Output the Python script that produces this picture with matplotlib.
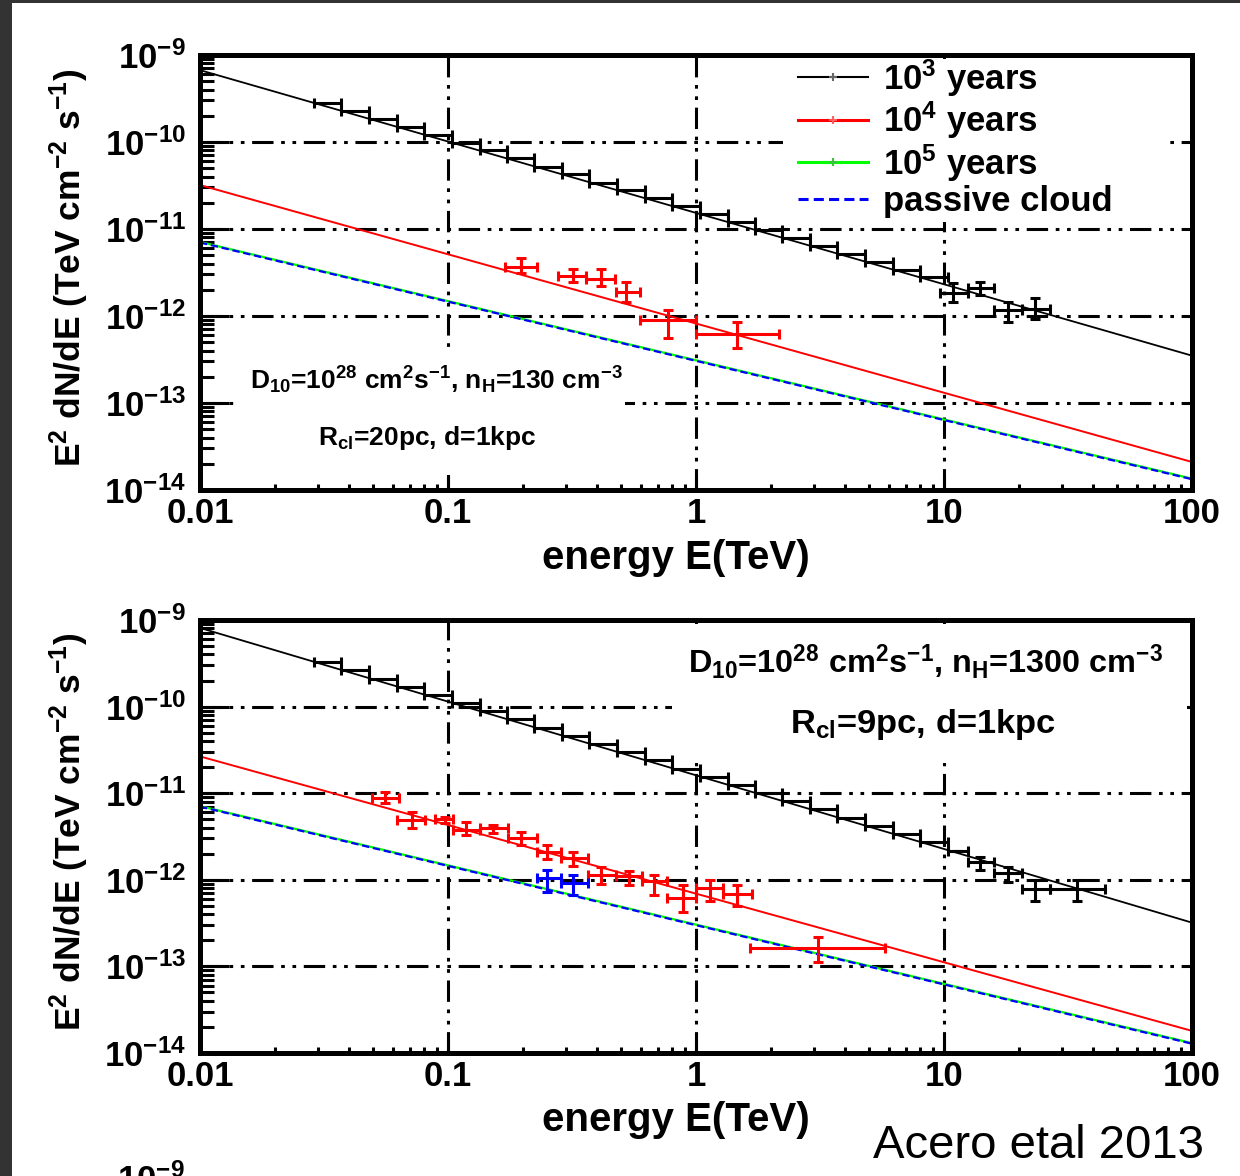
"""
E^2 dN/dE of a molecular cloud illuminated by CRs escaping a nearby SNR,
for two cloud setups, with simulated data points.

python plot.py  ->  out.png
"""

import matplotlib
matplotlib.use("Agg")

import numpy as np
import matplotlib.pyplot as plt
from matplotlib.patches import Rectangle
from matplotlib.lines import Line2D
from matplotlib.ticker import LogLocator, FixedLocator, FixedFormatter, NullFormatter

plt.rcParams["font.family"] = "Liberation Sans"
plt.rcParams["font.weight"] = "bold"
plt.rcParams["axes.labelweight"] = "bold"
plt.rcParams["mathtext.default"] = "regular"
plt.rcParams["mathtext.fontset"] = "custom"
plt.rcParams["mathtext.rm"] = "Liberation Sans:bold"

W, H = 1240, 1176

# ---------------------------------------------------------------------------
# Data
# ---------------------------------------------------------------------------
E_MODEL = [0.01, 100.0]

# upper panel model curves (values at 0.01 and 100 TeV)
top_1e3 = [6.7e-10, 3.5e-13]
top_1e4 = [3.2e-11, 2.1e-14]
top_1e5 = [7.1e-12, 1.35e-14]
top_passive = [7.0e-12, 1.33e-14]

# lower panel model curves
bot_1e3 = [8.1e-10, 3.2e-13]
bot_1e4 = [2.66e-11, 1.8e-14]
bot_1e5 = [7.1e-12, 1.3e-14]
bot_passive = [7.0e-12, 1.28e-14]

# binned 10^3 yr simulated spectrum (bin edges in TeV)
STEP_EDGES = [0.0288, 0.0372, 0.0481, 0.0621, 0.0802, 0.1037, 0.134, 0.173,
              0.223, 0.288, 0.372, 0.481, 0.621, 0.802, 1.04, 1.34, 1.73,
              2.23, 2.88, 3.72, 4.81, 6.21, 8.02, 10.4]
top_steps = [2.8e-10, 2.28e-10, 1.85e-10, 1.5e-10, 1.21e-10, 9.8e-11, 8.0e-11,
             6.5e-11, 5.2e-11, 4.3e-11, 3.4e-11, 2.8e-11, 2.27e-11, 1.84e-11,
             1.49e-11, 1.21e-11, 9.8e-12, 7.9e-12, 6.4e-12, 5.2e-12, 4.2e-12,
             3.4e-12, 2.8e-12]
bot_steps = [3.24e-10, 2.63e-10, 2.1e-10, 1.7e-10, 1.36e-10, 1.1e-10, 8.8e-11,
             7.1e-11, 5.7e-11, 4.6e-11, 3.7e-11, 3.0e-11, 2.4e-11, 1.9e-11,
             1.55e-11, 1.25e-11, 1.0e-11, 8.1e-12, 6.5e-12, 5.2e-12, 4.2e-12,
             3.4e-12, 2.7e-12]

# upper panel: high-energy 10^3 yr points
top_blk_E = [10.9, 14.0, 18.1, 23.3]
top_blk_lo = [9.64, 12.5, 15.9, 20.6]
top_blk_hi = [12.5, 15.9, 20.6, 26.7]
top_blk_F = [1.84e-12, 2.09e-12, 1.17e-12, 1.2e-12]
top_blk_Flo = [1.44e-12, 1.74e-12, 8.5e-13, 9.3e-13]
top_blk_Fhi = [2.4e-12, 2.45e-12, 1.44e-12, 1.62e-12]

# upper panel: 10^4 yr points
top_red_E = [0.197, 0.319, 0.414, 0.52, 0.77, 1.46]
top_red_lo = [0.170, 0.278, 0.360, 0.475, 0.594, 1.0]
top_red_hi = [0.229, 0.360, 0.471, 0.594, 1.0, 2.17]
top_red_F = [3.66e-12, 2.9e-12, 2.66e-12, 1.9e-12, 8.9e-13, 6.2e-13]
top_red_Flo = [3.12e-12, 2.45e-12, 2.21e-12, 1.44e-12, 5.6e-13, 4.3e-13]
top_red_Fhi = [4.65e-12, 3.47e-12, 3.47e-12, 2.45e-12, 1.17e-12, 8.5e-13]

# lower panel: high-energy 10^3 yr points
bot_blk_E = [11.3, 14.0, 18.1, 23.3, 34.4]
bot_blk_lo = [10.4, 12.5, 15.9, 20.6, 26.7]
bot_blk_hi = [12.5, 15.9, 20.6, 26.7, 44.6]
bot_blk_F = [2.15e-12, 1.62e-12, 1.2e-12, 7.9e-13, 7.9e-13]
bot_blk_Flo = [2.15e-12, 1.3e-12, 9.5e-13, 5.7e-13, 5.7e-13]
bot_blk_Fhi = [2.15e-12, 1.84e-12, 1.41e-12, 1.0e-12, 1.0e-12]

# lower panel: 10^4 yr points
bot_red_E = [0.0557, 0.0716, 0.097, 0.118, 0.152, 0.197, 0.251, 0.319,
             0.414, 0.537, 0.678, 0.887, 1.14, 1.46, 3.1]
bot_red_lo = [0.0494, 0.0622, 0.0887, 0.105, 0.135, 0.174, 0.229, 0.286,
              0.367, 0.475, 0.605, 0.764, 1.0, 1.28, 1.65]
bot_red_hi = [0.0634, 0.0807, 0.105, 0.135, 0.174, 0.229, 0.286, 0.367,
              0.475, 0.605, 0.764, 1.0, 1.28, 1.68, 5.78]
bot_red_F = [8.7e-12, 4.9e-12, 5.0e-12, 3.76e-12, 4.0e-12, 3.0e-12, 2.1e-12,
             1.8e-12, 1.14e-12, 1.12e-12, 9.6e-13, 6.2e-13, 8.1e-13, 6.9e-13,
             1.62e-13]
bot_red_Flo = [7.7e-12, 3.97e-12, 4.5e-12, 3.3e-12, 3.5e-12, 2.5e-12, 1.73e-12,
               1.45e-12, 9.0e-13, 8.6e-13, 6.6e-13, 4.2e-13, 5.7e-13, 5.0e-13,
               1.11e-13]
bot_red_Fhi = [1.02e-11, 6.05e-12, 5.3e-12, 4.6e-12, 4.3e-12, 3.55e-12, 2.55e-12,
               2.1e-12, 1.42e-12, 1.25e-12, 1.14e-12, 8.6e-13, 1.0e-12, 8.6e-13,
               2.2e-13]

# lower panel: passive cloud points
bot_blue_E = [0.251, 0.319]
bot_blue_lo = [0.229, 0.286]
bot_blue_hi = [0.286, 0.367]
bot_blue_F = [1.05e-12, 9.3e-13]
bot_blue_Flo = [7.3e-13, 6.6e-13]
bot_blue_Fhi = [1.3e-12, 1.15e-12]

X_TICKS = [0.01, 0.1, 1, 10, 100]
X_LABELS = ["0.01", "0.1", "1", "10", "100"]

LEGEND_LABELS = [r"10$^{3}$ years", r"10$^{4}$ years", r"10$^{5}$ years",
                 "passive cloud"]

GRID_LS = (0, (7, 2.5, 1.2, 2.5, 1.2, 2.5))
BLUE_LS = (0, (3.3, 1.7))


def _points(ax, E, lo, hi, F, flo, fhi, color):
    E, lo, hi = np.array(E), np.array(lo), np.array(hi)
    F, flo, fhi = np.array(F), np.array(flo), np.array(fhi)
    ax.errorbar(E, F, xerr=[E - lo, hi - E], yerr=[F - flo, fhi - F],
                fmt="none", ecolor=color, elinewidth=2.2, capsize=3.5,
                capthick=2.2, zorder=4)


def _steps(ax, edges, flux):
    edges = np.array(edges)
    lo, hi = edges[:-1], edges[1:]
    c = np.sqrt(lo * hi)
    ax.errorbar(c, flux, xerr=[c - lo, hi - c], fmt="none", ecolor="k",
                elinewidth=2.2, capsize=3.5, capthick=2.2, zorder=4)


def _panel(ax, curves, steps):
    ax.set_xscale("log")
    ax.set_yscale("log")
    ax.set_xlim(0.01, 100)
    ax.set_ylim(1e-14, 1e-9)

    c3, c4, c5, cp = curves
    ax.plot(E_MODEL, c3, color="k", lw=1.3, zorder=2)
    ax.plot(E_MODEL, c4, color="red", lw=1.4, zorder=2)
    ax.plot(E_MODEL, c5, color="#00ff00", lw=1.6, zorder=2)
    ax.plot(E_MODEL, cp, color="blue", lw=1.6, ls=BLUE_LS, zorder=2.1)
    _steps(ax, STEP_EDGES, steps)

    ax.set_axisbelow(True)
    ax.grid(True, which="major", color="k", lw=2.2, ls=GRID_LS)
    ax.grid(False, which="minor")

    ax.xaxis.set_major_locator(FixedLocator(X_TICKS))
    ax.xaxis.set_major_formatter(FixedFormatter(X_LABELS))
    ax.xaxis.set_minor_locator(LogLocator(base=10, subs=np.arange(2, 10), numticks=30))
    ax.xaxis.set_minor_formatter(NullFormatter())
    ax.yaxis.set_major_locator(LogLocator(base=10, numticks=10))
    ax.yaxis.set_minor_locator(LogLocator(base=10, subs=np.arange(2, 10), numticks=30))
    ax.yaxis.set_minor_formatter(NullFormatter())

    ax.tick_params(axis="both", which="both", direction="in", width=2.2,
                   top=False, right=False, labelsize=25, colors="k")
    ax.tick_params(axis="y", which="major", length=21, pad=10)
    ax.tick_params(axis="y", which="minor", length=10)
    ax.tick_params(axis="x", which="major", length=9.5, pad=5)
    ax.tick_params(axis="x", which="minor", length=4.5)
    for sp in ax.spines.values():
        sp.set_linewidth(3.6)

    ax.set_xlabel("energy E(TeV)", fontsize=29, fontweight="bold")
    ax.set_ylabel(r"E$^{2}$ dN/dE (TeV cm$^{-2}$ s$^{-1}$)", fontsize=25.5,
                  fontweight="bold")
    ax.yaxis.set_label_coords(-0.11, 0.51)


def _box(ax, x0, y0, x1, y1):
    ax.add_patch(Rectangle((x0, y0), x1 - x0, y1 - y0, transform=ax.transAxes,
                           facecolor="white", edgecolor="none", zorder=1))


fig = plt.figure(figsize=(W / 100, H / 100), dpi=100, facecolor="white")

# upper panel
ax1 = fig.add_axes([200 / W, 1 - 490 / H, 992 / W, 435 / H])
_panel(ax1, (top_1e3, top_1e4, top_1e5, top_passive), top_steps)
_points(ax1, top_blk_E, top_blk_lo, top_blk_hi, top_blk_F, top_blk_Flo, top_blk_Fhi, "k")
_points(ax1, top_red_E, top_red_lo, top_red_hi, top_red_F, top_red_Flo, top_red_Fhi, "red")
ax1.xaxis.set_label_coords(0.48, -0.112)
_box(ax1, 0.035, 0.035, 0.428, 0.329)
_box(ax1, 0.588, 0.616, 0.975, 0.99)

handles = [
    Line2D([], [], color="k", lw=1.5, marker="+", ms=6, mew=1.5, mec="0.4"),
    Line2D([], [], color="red", lw=2.2, marker="+", ms=6, mew=1.5, mec="#ff6060"),
    Line2D([], [], color="#00ff00", lw=2.2, marker="+", ms=6, mew=1.5, mec="#40c040"),
    Line2D([], [], color="blue", lw=2.2, ls=BLUE_LS),
]
leg = ax1.legend(handles, LEGEND_LABELS, loc="upper left", bbox_to_anchor=(0.603, 0.995),
                 frameon=False, fontsize=25, handlelength=2.0, handletextpad=0.45,
                 labelspacing=0.03, borderpad=0, borderaxespad=0, numpoints=1)
leg.set_zorder(5)

fig.text(250 / W, 1 - 380 / H,
         r"D$_{10}$=10$^{28}$ cm$^{2}$s$^{-1}$, n$_{H}$=130 cm$^{-3}$",
         fontsize=19, ha="left", va="center")
fig.text(318 / W, 1 - 438 / H, r"R$_{cl}$=20pc, d=1kpc",
         fontsize=19, ha="left", va="center")

# lower panel
ax2 = fig.add_axes([200 / W, 1 - 1053 / H, 992 / W, 433 / H])
_panel(ax2, (bot_1e3, bot_1e4, bot_1e5, bot_passive), bot_steps)
_points(ax2, bot_blk_E, bot_blk_lo, bot_blk_hi, bot_blk_F, bot_blk_Flo, bot_blk_Fhi, "k")
_points(ax2, bot_red_E, bot_red_lo, bot_red_hi, bot_red_F, bot_red_Flo, bot_red_Fhi, "red")
_points(ax2, bot_blue_E, bot_blue_lo, bot_blue_hi, bot_blue_F, bot_blue_Flo, bot_blue_Fhi, "blue")
ax2.xaxis.set_label_coords(0.48, -0.112)
_box(ax2, 0.476, 0.670, 0.995, 0.99)

fig.text(688 / W, 1 - 662 / H,
         r"D$_{10}$=10$^{28}$ cm$^{2}$s$^{-1}$, n$_{H}$=1300 cm$^{-3}$",
         fontsize=23.3, ha="left", va="center")
fig.text(790 / W, 1 - 724 / H, r"R$_{cl}$=9pc, d=1kpc",
         fontsize=24.8, ha="left", va="center")

fig.text(873 / W, 1 - 1158 / H, "Acero etal 2013", fontsize=34,
         fontweight="normal", ha="left", va="baseline")

# start of the next panel, cut by the page edge
fig.text(185 / W, 1 - 1163 / H, r"10$^{-9}$", fontsize=25, ha="right", va="top")

# slide background showing at the edges
fig.patches.append(Rectangle((0, 0), 12 / W, 1, transform=fig.transFigure,
                             facecolor="#333333", edgecolor="none", zorder=10))
fig.patches.append(Rectangle((0, 1 - 3 / H), 1, 3 / H, transform=fig.transFigure,
                             facecolor="#333333", edgecolor="none", zorder=10))

fig.savefig("out.png", dpi=100, facecolor="white")
